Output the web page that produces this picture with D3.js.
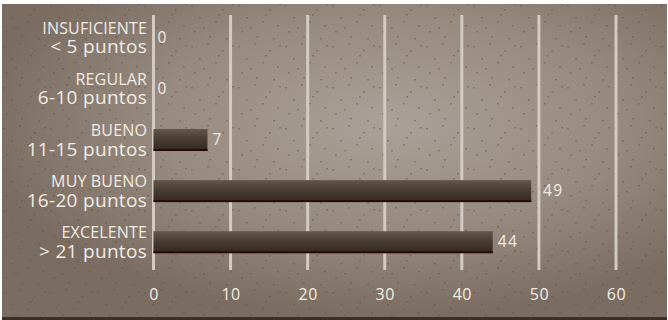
<!DOCTYPE html>
<html><head><meta charset="utf-8">
<script src="https://cdn.jsdelivr.net/npm/d3@7"></script>
<style>
html,body{margin:0;padding:0;background:#fff;}
svg{display:block;}
</style></head>
<body>
<script>
const categories = ["INSUFICIENTE", "REGULAR", "BUENO", "MUY BUENO", "EXCELENTE"];
const subLabels = ["< 5 puntos", "6-10 puntos", "11-15 puntos", "16-20 puntos", "> 21 puntos"];
const values = [0, 0, 7, 49, 44];
const xTicks = [0, 10, 20, 30, 40, 50, 60];

const W = 668, H = 320;
const svg = d3.select("body").append("svg").attr("width", W).attr("height", H);
const defs = svg.append("defs");

const bg = defs.append("radialGradient").attr("id", "bg")
  .attr("cx", "0.58").attr("cy", "0.38").attr("r", "0.62");
bg.append("stop").attr("offset", "0").attr("stop-color", "#aba198");
bg.append("stop").attr("offset", "0.55").attr("stop-color", "#978a7f");
bg.append("stop").attr("offset", "1").attr("stop-color", "#7a6c61");

const pat = defs.append("pattern").attr("id", "specks").attr("patternUnits", "userSpaceOnUse")
  .attr("width", 47).attr("height", 41);
[[3,5],[19,2],[34,9],[11,17],[27,21],[42,25],[6,31],[21,36],[38,38],[15,27],[30,14],[44,4]].forEach(p => {
  pat.append("rect").attr("x", p[0]).attr("y", p[1]).attr("width", 2).attr("height", 1.5)
    .attr("fill", "#5e5148").attr("opacity", 0.45);
});

const barG = defs.append("linearGradient").attr("id", "bar").attr("x1", 0).attr("y1", 0).attr("x2", 0).attr("y2", 1);
barG.append("stop").attr("offset", "0").attr("stop-color", "#62564d");
barG.append("stop").attr("offset", "0.45").attr("stop-color", "#483c33");
barG.append("stop").attr("offset", "1").attr("stop-color", "#33271f");

// panel
svg.append("rect").attr("x", 2).attr("y", 4).attr("width", 665).attr("height", 314).attr("fill", "url(#bg)");
svg.append("rect").attr("x", 2).attr("y", 4).attr("width", 665).attr("height", 314).attr("fill", "url(#specks)");
svg.append("rect").attr("x", 2).attr("y", 317).attr("width", 665).attr("height", 3).attr("fill", "#3b2f27");

const x = d3.scaleLinear().domain([0, 60]).range([153.5, 616]);
const y = d3.scaleBand().domain(categories).range([12, 268]).paddingInner(0.57).paddingOuter(0.29);

// gridlines
svg.append("g").selectAll("line").data(xTicks).join("line")
  .attr("x1", d => x(d)).attr("x2", d => x(d))
  .attr("y1", 15).attr("y2", 270)
  .attr("stroke", "#d3cac1").attr("stroke-width", 3);

// bars
const bars = svg.append("g");
bars.selectAll("rect.b").data(values).join("rect").attr("class", "b")
  .attr("x", x(0)).attr("y", (d, i) => y(categories[i]))
  .attr("width", d => x(d) - x(0)).attr("height", y.bandwidth())
  .attr("fill", "url(#bar)");
bars.selectAll("rect.e").data(values).join("rect").attr("class", "e")
  .attr("x", x(0)).attr("y", (d, i) => y(categories[i]) + y.bandwidth() - 2)
  .attr("width", d => x(d) - x(0)).attr("height", d => d > 0 ? 2 : 0)
  .attr("fill", "#2a0a08");

const font = "'Open Sans', sans-serif";
// value labels (shifted past a gridline if they would sit on it)
function labelX(d) {
  let lx = x(d) + (d > 0 ? 5 : 4);
  xTicks.forEach(t => { const gx = x(t); if (gx > x(d) + 1 && gx < lx + 4) lx = gx + 4; });
  return lx;
}
svg.append("g").selectAll("text").data(values).join("text")
  .attr("x", d => labelX(d))
  .attr("y", (d, i) => y(categories[i]) + y.bandwidth() / 2 + 5)
  .attr("fill", "#f1ebe4").attr("font-family", font).attr("font-size", 15.5)
  .attr("letter-spacing", 1.5)
  .text(d => d);

// category labels (two lines each)
const lg = svg.append("g").attr("fill", "#f1ebe4").attr("font-family", font).attr("text-anchor", "end");
lg.selectAll("text.l1").data(categories).join("text").attr("class", "l1")
  .attr("x", 147).attr("y", d => y(d) + y.bandwidth() / 2 - 4)
  .attr("font-size", 16).attr("letter-spacing", 0.15).text(d => d);
lg.selectAll("text.l2").data(categories).join("text").attr("class", "l2")
  .attr("x", 147).attr("y", d => y(d) + y.bandwidth() / 2 + 15.5)
  .attr("font-size", 19).attr("letter-spacing", 0.3).text((d, i) => subLabels[i]);

// x axis
const axis = svg.append("g").attr("transform", "translate(0,300)")
  .call(d3.axisBottom(x).tickValues(xTicks).tickSize(0).tickPadding(0));
axis.select(".domain").remove();
axis.selectAll("text").attr("fill", "#f1ebe4").attr("font-family", font).attr("font-size", 16)
  .attr("dy", 0).attr("letter-spacing", 0.5);
</script>
</body></html>
